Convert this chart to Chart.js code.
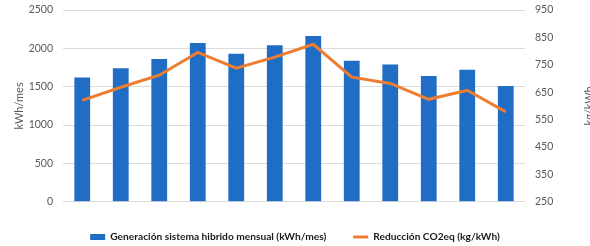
<!DOCTYPE html>
<html>
<head>
<meta charset="utf-8">
<script src="https://cdn.jsdelivr.net/npm/chart.js@4"></script>
<style>
  html, body { margin: 0; padding: 0; background: #fff; overflow: hidden; }
</style>
</head>
<body>
<canvas id="chart" width="590" height="246"></canvas>
<script>
const meses = ["Jul", "Ago", "Sep", "Oct", "Nov", "Dic", "Ene", "Feb", "Mar", "Abr", "May", "Jun"];
const generacion = [1620, 1740, 1860, 2070, 1930, 2040, 2160, 1840, 1790, 1640, 1720, 1510];
const reduccionCO2 = [620, 668, 712, 795, 738, 778, 825, 705, 682, 624, 657, 578];

const fontFamily = "Lato, 'Open Sans', sans-serif";
const grisTexto = "#595959";

// titulo del eje derecho, rotado igual que el izquierdo
const tituloDerecho = {
  id: "tituloDerecho",
  afterDraw(chart) {
    const { ctx, chartArea } = chart;
    ctx.save();
    ctx.translate(chart.width - 1, (chartArea.top + chartArea.bottom) / 2);
    ctx.rotate(-Math.PI / 2);
    ctx.font = "11px " + fontFamily;
    ctx.fillStyle = grisTexto;
    ctx.textAlign = "center";
    ctx.textBaseline = "middle";
    ctx.fillText("kg/kWh", 0, 0);
    ctx.restore();
  },
};

const sinComa = (v) => String(v);

const ctx = document.getElementById("chart").getContext("2d");
new Chart(ctx, {
  type: "bar",
  data: {
    labels: meses,
    datasets: [
      {
        label: "Generación sistema hibrido mensual (kWh/mes)",
        data: generacion,
        backgroundColor: "#1f6dc4",
        borderWidth: 0,
        barPercentage: 0.41,
        categoryPercentage: 1,
        pointStyle: "rect",
        yAxisID: "y",
        order: 2,
      },
      {
        type: "line",
        label: "Reducción CO2eq (kg/kWh)",
        data: reduccionCO2,
        borderColor: "#ed7d31",
        backgroundColor: "#ed7d31",
        borderWidth: 3,
        pointRadius: 0,
        pointStyle: "line",
        tension: 0,
        yAxisID: "y1",
        order: 1,
      },
    ],
  },
  options: {
    responsive: false,
    animation: false,
    layout: {
      padding: { top: 10, left: 0, right: 0, bottom: -6 },
    },
    scales: {
      x: {
        grid: { display: false, drawTicks: false },
        border: { display: false },
        ticks: {
          color: grisTexto,
          font: { family: fontFamily, size: 10.5 },
          padding: 8,
        },
        afterFit: (scale) => {
          scale.height = 3;
        },
      },
      y: {
        position: "left",
        min: 0,
        max: 2500,
        grid: { color: "#dcdcdc", drawTicks: true, tickLength: 7, tickColor: "rgba(0,0,0,0)" },
        border: { display: false },
        ticks: {
          stepSize: 500,
          color: grisTexto,
          font: { family: fontFamily, size: 10.5 },
          padding: 3,
          callback: sinComa,
        },
        title: {
          display: true,
          text: "kWh/mes",
          color: grisTexto,
          font: { family: fontFamily, size: 11 },
          padding: { top: 13, bottom: 0 },
        },
        afterFit: (scale) => {
          scale.width = 63;
        },
      },
      y1: {
        position: "right",
        min: 250,
        max: 950,
        grid: { display: false, drawTicks: true, tickLength: 7 },
        border: { display: false },
        ticks: {
          stepSize: 100,
          color: grisTexto,
          font: { family: fontFamily, size: 10.5 },
          padding: 3,
          callback: sinComa,
        },
        afterFit: (scale) => {
          scale.width = 65;
        },
      },
    },
    plugins: {
      legend: {
        position: "bottom",
        labels: {
          usePointStyle: true,
          pointStyleWidth: 15,
          boxHeight: 6,
          padding: 27,
          color: "#1a1a1a",
          font: { family: fontFamily, size: 10.2, weight: "bold" },
          sort: (a, b) => a.datasetIndex - b.datasetIndex,
        },
      },
      tooltip: { enabled: false },
    },
  },
  plugins: [tituloDerecho],
});
</script>
</body>
</html>
